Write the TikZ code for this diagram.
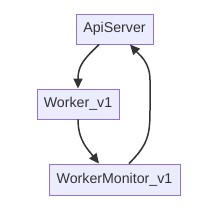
\documentclass[tikz,border=0pt]{standalone}
\usepackage{fontspec}
\setmainfont{Liberation Sans}
\usetikzlibrary{arrows.meta}
\definecolor{nodefill}{HTML}{ECECFF}
\definecolor{nodeline}{HTML}{9370DB}
\definecolor{ink}{HTML}{333333}
\begin{document}
\begin{tikzpicture}[x=1pt,y=-1pt,
  box/.style={draw=nodeline,fill=nodefill,line width=0.9pt,minimum height=30pt,inner sep=0pt,text=ink,font=\fontsize{14.2}{16}\selectfont},
  conn/.style={draw=ink,line width=1.5pt,-{Triangle[length=10pt,width=9pt]}}]
\useasboundingbox (0,0) rectangle (219,219);
\node[box,minimum width=77pt] (api) at (114.5,29) {ApiServer};
\node[box,minimum width=82pt] (wk) at (78,104) {Worker\_v1};
\node[box,minimum width=131pt,minimum height=31pt] (wm) at (114.5,179.5) {WorkerMonitor\_v1};
\draw[conn] ([xshift=-15.5pt]api.south) .. controls +(-14,14) and +(0,-24) .. (wk.north);
\draw[conn] (wk.south) .. controls +(0,21) and +(-11,-14) .. ([xshift=-15.5pt]wm.north);
\draw[conn] ([xshift=14.5pt]wm.north) .. controls +(19,-19) and +(0,25) .. (150,110) -- (150,80) .. controls +(0,-18) and +(9,10) .. ([xshift=15.5pt]api.south);
\end{tikzpicture}
\end{document}
